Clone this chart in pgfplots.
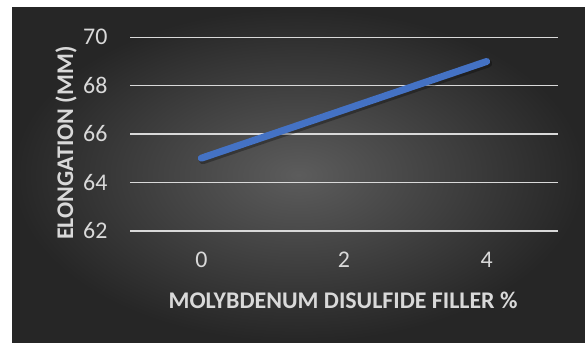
\documentclass[border=0pt]{standalone}
\usepackage{fontspec}
\setmainfont{Carlito}
\usepackage{pgfplots}
\pgfplotsset{compat=1.18}
\definecolor{bgin}{HTML}{5C5C5C}
\definecolor{bgout}{HTML}{262626}
\definecolor{txt}{HTML}{D9D9D9}
\definecolor{linec}{HTML}{4472C4}
\begin{document}
\begin{tikzpicture}[x=1bp,y=1bp]
\useasboundingbox (0,0) rectangle (585,342);
\fill[white] (0,0) rectangle (585,342);
\shade[inner color=bgin, outer color=bgout] (12,0) rectangle (585,334);
\begin{axis}[
  at={(130bp,111.3bp)}, anchor=south west,
  scale only axis, width=428bp, height=193.4bp,
  xmin=-1, xmax=5, ymin=62, ymax=70,
  xtick={0,2,4}, ytick={62,64,66,68,70},
  axis line style={draw=none},
  major tick length=0pt,
  ymajorgrids, grid style={txt, line width=1.6bp},
  /pgf/number format/assume math mode=true,
  tick label style={font=\fontsize{24}{28}\selectfont, text=txt},
  yticklabel style={anchor=east, xshift=-19bp},
  xticklabel style={anchor=center, yshift=-29bp},
  label style={font=\fontsize{24}{28}\selectfont\bfseries, text=txt},
  xlabel={MOLYBDENUM DISULFIDE FILLER \%},
  ylabel={ELONGATION (MM)},
  xlabel style={at={(axis description cs:0.4977,-0.358)}, anchor=center},
  ylabel style={at={(axis description cs:-0.1495,0.4535)}, anchor=center, rotate=0},
  clip=false,
]
\addplot[black, opacity=0.3, line width=8bp, line cap=round, xshift=1.5bp, yshift=-2bp] coordinates {(0,65) (2,67) (4,69)};
\addplot[linec, line width=7bp, line cap=round] coordinates {(0,65) (2,67) (4,69)};
\end{axis}
\end{tikzpicture}
\end{document}
